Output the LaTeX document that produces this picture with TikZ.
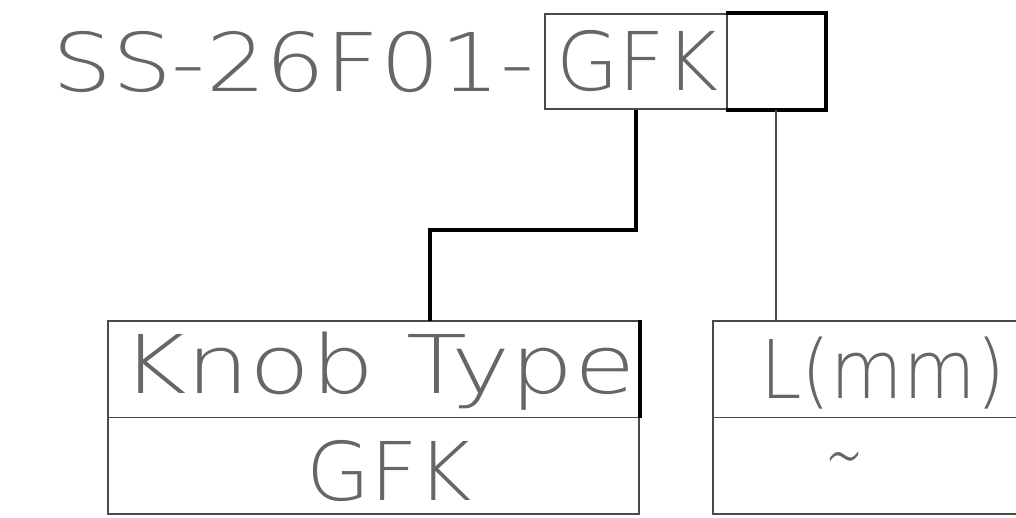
\documentclass[tikz,border=0pt]{standalone}
\usepackage{fontspec}
\newfontfamily\cad{DejaVu Sans ExtraLight}
\definecolor{txt}{HTML}{666666}
\definecolor{ln}{HTML}{4A4A4A}
\begin{document}
\begin{tikzpicture}[x=1pt,y=-1pt,
  thinln/.style={draw=ln, line width=1.6pt},
  thickln/.style={draw=black, line width=3.6pt, line join=miter},
  boxnode/.style={thinln, inner sep=0pt, fill=none},
  lbl/.style={inner sep=0pt, anchor=base west, text=txt, font=\cad\fontsize{81}{81}\selectfont}]
\useasboundingbox (0,0) rectangle (1016,518);
% top boxes
\node[boxnode, minimum width=182pt, minimum height=95pt] (gfkbox) at (636,61.5) {};
\node[boxnode, minimum width=98pt, minimum height=95pt] (selbox) at (776,61.5) {};
\draw[thickln] (selbox.north west) -- (selbox.north east) -- (selbox.south east) -- (selbox.south west);
% bottom boxes
\node[boxnode, minimum width=531pt, minimum height=193pt] (knobbox) at (373.5,417.5) {};
\draw[thinln] (knobbox.west) -- (knobbox.east);
\draw[thickln] (knobbox.north east) -- (knobbox.east);
\node[boxnode, minimum width=327pt, minimum height=193pt] (lbox) at (876.5,417.5) {};
\draw[thinln] (lbox.west) -- (lbox.east);
% connectors
\coordinate (knobtop) at (430,321);
\draw[thickln] (gfkbox.south) -- ++(0,120) -| (knobtop);
\draw[thinln] (selbox.south) -- (selbox.south |- lbox.north);
% texts
\node[lbl] (title) at (52,92) {\resizebox{482pt}{\height}{SS-26F01-}};
\node[lbl] (gfktop) at (556,91) {\resizebox{162pt}{\height}{GFK}};
\node[lbl] (knob) at (121,393) {\resizebox{514pt}{\height}{Knob Type}};
\node[lbl] (gfkbot) at (306,500) {\resizebox{166pt}{\height}{GFK}};
\node[lbl] (lmm) at (760,398) {\resizebox{245pt}{\height}{L(mm)}};
\node[lbl, anchor=center] (tilde) at (844,467) {\resizebox{38pt}{\height}{\textasciitilde}};
\end{tikzpicture}
\end{document}
